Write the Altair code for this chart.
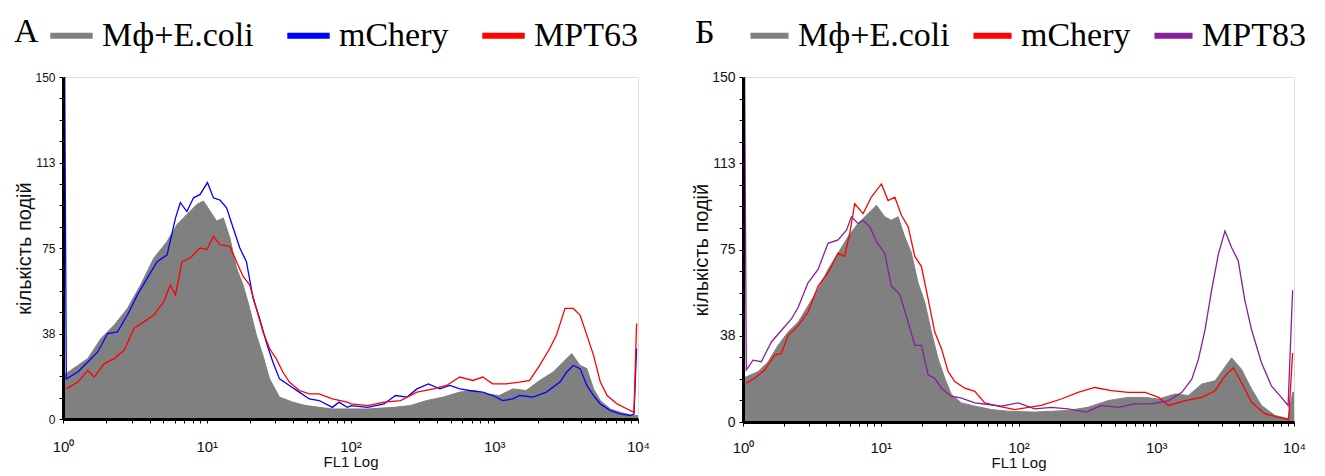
import altair as alt
import pandas as pd

# ---------------- text ----------------
LABEL_A = "A"
LABEL_B = "Б"
SERIES_A = ["Mф+E.coli", "mChery", "MPT63"]
SERIES_B = ["Mф+E.coli", "mChery", "MPT83"]
COLORS_A = ["#808080", "#0000ff", "#ff0000"]
COLORS_B = ["#808080", "#ff0000", "#86209a"]
Y_TITLE = "кількість подій"
X_TITLE = "FL1 Log"
X_DECADES = [1, 10, 100, 1000, 10000]
X_TICK_LABELS = ["10⁰", "10¹", "10²", "10³", "10⁴"]
Y_MAJOR = [0, 37.5, 75, 112.5, 150]
Y_TICK_LABELS = ["0", "38", "75", "113", "150"]

# ---------------- data (x given as log10 of FL1, y = counts) ----------------
# Panel A
a_gray_lx = [0.0, 0.103, 0.172, 0.264, 0.356, 0.448, 0.540, 0.632, 0.724, 0.793, 0.862, 0.931, 0.977,
             1.023, 1.069, 1.115, 1.161, 1.207, 1.253, 1.299, 1.345, 1.391, 1.437, 1.506, 1.598, 1.690,
             1.782, 1.874, 2.119, 2.302, 2.416, 2.531, 2.645, 2.760, 2.851, 2.943, 3.035, 3.129, 3.222,
             3.316, 3.410, 3.480, 3.539, 3.597, 3.644, 3.691, 3.738, 3.808, 3.878, 3.972, 4.0]
a_gray_y = [19.0, 23.5, 26.5, 35.3, 41.2, 48.5, 58.8, 70.6, 77.9, 85.3, 89.7, 94.1, 95.6,
            91.2, 86.8, 88.2, 79.4, 66.2, 58.8, 48.5, 36.8, 27.9, 17.6, 9.6, 7.4, 5.9,
            5.1, 4.4, 4.4, 5.1, 5.9, 8.1, 9.6, 11.8, 12.5, 11.0, 10.3, 13.2, 12.5,
            16.9, 20.6, 25.0, 28.7, 23.5, 22.1, 13.2, 8.1, 4.4, 2.9, 1.5, 1.5]

a_blue_lx = [0.012, 0.023, 0.103, 0.172, 0.241, 0.310, 0.379, 0.448, 0.517, 0.586, 0.655, 0.724, 0.782,
             0.816, 0.862, 0.908, 0.954, 1.005, 1.046, 1.092, 1.138, 1.184, 1.230, 1.276, 1.322, 1.368,
             1.414, 1.460, 1.506, 1.575, 1.644, 1.713, 1.782, 1.874, 1.920, 1.977, 2.005, 2.119, 2.233,
             2.313, 2.394, 2.462, 2.542, 2.622, 2.691, 2.760, 2.828, 2.920, 2.989, 3.059, 3.129, 3.176,
             3.269, 3.363, 3.457, 3.504, 3.550, 3.597, 3.644, 3.691, 3.738, 3.808, 3.878, 3.948, 3.972,
             3.99]
a_blue_y = [150, 17.6, 20.6, 25.0, 29.4, 37.5, 38.2, 45.6, 54.4, 61.8, 69.0, 72.0, 88.0,
            94.9, 91.0, 97.0, 98.5, 103.7, 97.0, 96.0, 92.6, 83.8, 75.0, 69.0, 53.0, 44.0,
            33.8, 25.0, 17.6, 14.7, 11.8, 8.8, 8.1, 5.1, 7.4, 5.1, 5.9, 5.1, 6.6,
            10.3, 9.6, 13.2, 15.4, 13.2, 14.7, 13.2, 12.5, 11.8, 10.3, 8.1, 8.8, 10.3,
            9.6, 11.8, 16.2, 20.6, 23.5, 22.1, 14.7, 10.3, 6.6, 3.7, 2.2, 1.5, 2.2,
            30.9]

a_red_lx = [0.023, 0.103, 0.172, 0.218, 0.287, 0.356, 0.425, 0.494, 0.563, 0.632, 0.701, 0.747, 0.782,
            0.828, 0.885, 0.954, 1.000, 1.046, 1.092, 1.161, 1.207, 1.253, 1.299, 1.345, 1.391, 1.437,
            1.483, 1.529, 1.575, 1.644, 1.713, 1.782, 1.874, 1.977, 2.005, 2.119, 2.233, 2.348, 2.462,
            2.577, 2.668, 2.760, 2.851, 2.920, 2.989, 3.082, 3.176, 3.246, 3.316, 3.386, 3.433, 3.492,
            3.550, 3.597, 3.644, 3.691, 3.738, 3.785, 3.855, 3.925, 3.972, 3.99]
a_red_y = [13.2, 16.2, 21.3, 18.4, 24.3, 26.5, 30.1, 39.7, 42.6, 45.6, 51.5, 58.8, 54.4,
           69.0, 70.6, 75.0, 74.3, 80.1, 76.5, 75.7, 69.0, 62.5, 58.8, 48.5, 38.2, 30.9,
           26.5, 20.6, 16.2, 12.5, 11.0, 11.0, 8.8, 7.4, 6.6, 5.9, 7.4, 8.1, 11.8,
           13.2, 14.7, 18.4, 16.9, 18.4, 15.4, 15.4, 16.2, 16.9, 23.5, 30.9, 36.8, 48.5,
           48.5, 45.6, 36.8, 27.9, 16.2, 10.3, 6.6, 4.4, 2.9, 41.9]

# Panel B
b_gray_lx = [0.0, 0.109, 0.182, 0.254, 0.327, 0.400, 0.472, 0.545, 0.617, 0.690, 0.763, 0.835, 0.908,
             0.969, 1.029, 1.077, 1.126, 1.174, 1.223, 1.271, 1.320, 1.368, 1.416, 1.465, 1.513, 1.586,
             1.683, 1.804, 1.925, 2.117, 2.359, 2.505, 2.650, 2.796, 2.917, 3.017, 3.137, 3.234, 3.330,
             3.427, 3.487, 3.547, 3.619, 3.692, 3.764, 3.860, 3.957, 3.99, 4.0]
b_gray_y = [19.0, 21.9, 26.2, 33.3, 39.1, 43.4, 50.5, 57.7, 66.3, 73.4, 80.6, 86.3, 90.6,
            94.2, 89.2, 87.7, 89.2, 80.6, 73.4, 60.5, 52.0, 39.1, 27.6, 19.0, 11.9, 8.3,
            6.9, 5.4, 4.7, 4.3, 5.0, 6.4, 9.3, 10.7, 10.7, 10.0, 12.2, 11.5, 16.5,
            17.9, 22.9, 27.9, 22.9, 14.3, 7.2, 2.9, 1.4, 12.9, 12.9]

b_red_lx = [0.024, 0.085, 0.157, 0.230, 0.278, 0.327, 0.400, 0.472, 0.545, 0.617, 0.690, 0.738, 0.775,
            0.811, 0.872, 0.932, 1.005, 1.053, 1.102, 1.150, 1.199, 1.247, 1.295, 1.344, 1.392, 1.441,
            1.489, 1.538, 1.610, 1.683, 1.755, 1.852, 1.973, 2.165, 2.311, 2.432, 2.553, 2.675, 2.796,
            2.920, 3.017, 3.089, 3.210, 3.330, 3.427, 3.499, 3.559, 3.619, 3.692, 3.788, 3.884, 3.961,
            3.99]
b_red_y = [16.9, 19.0, 22.6, 29.1, 29.8, 37.6, 41.9, 47.7, 59.1, 64.8, 73.4, 72.0, 82.0,
           94.9, 90.6, 97.8, 103.5, 96.3, 97.8, 89.9, 84.9, 72.0, 67.7, 53.4, 39.1, 31.9,
           21.9, 17.6, 14.7, 13.3, 8.3, 6.9, 5.4, 7.2, 10.0, 12.9, 15.0, 13.6, 12.9,
           12.9, 10.7, 7.2, 9.3, 10.7, 13.6, 20.0, 23.6, 17.2, 8.6, 3.6, 2.1, 1.1,
           30.0]

b_purple_lx = [0.012, 0.024, 0.073, 0.133, 0.206, 0.278, 0.351, 0.400, 0.472, 0.545, 0.617, 0.690, 0.751,
               0.787, 0.835, 0.872, 0.920, 0.969, 1.029, 1.077, 1.138, 1.199, 1.247, 1.295, 1.344, 1.392,
               1.441, 1.513, 1.586, 1.683, 1.780, 1.877, 1.998, 2.117, 2.238, 2.359, 2.493, 2.602, 2.723,
               2.845, 2.966, 3.089, 3.186, 3.258, 3.306, 3.354, 3.402, 3.451, 3.499, 3.547, 3.595, 3.643,
               3.692, 3.764, 3.836, 3.908, 3.957, 3.99]
b_purple_y = [150, 22.6, 26.9, 26.2, 34.8, 39.8, 44.8, 49.8, 60.5, 66.3, 77.7, 79.2, 83.4,
              89.2, 86.3, 87.7, 84.9, 78.4, 73.4, 59.1, 55.5, 43.4, 33.3, 33.3, 20.5, 19.0,
              14.7, 11.2, 10.4, 8.3, 7.6, 6.9, 8.3, 5.7, 6.4, 5.7, 4.3, 7.2, 6.4,
              7.9, 7.9, 9.3, 12.9, 18.6, 27.2, 40.1, 57.3, 73.0, 83.0, 75.9, 70.1, 53.0,
              40.1, 25.8, 15.7, 10.7, 7.2, 57.3]


def table(pairs):
    rows = []
    for name, xs, ys in pairs:
        for lx, c in zip(xs, ys):
            rows.append({"series": name, "lx": lx, "count": c})
    return pd.DataFrame(rows)


# trailing en-space + thin-space nudge the centred "10" left of its tick, as in the original
LABEL_PAD = "\u2002\u2009"
x_tick_values = [k * d for d in X_DECADES[:-1] for k in range(1, 10)] + [X_DECADES[-1]]
x_label_expr = " : ".join(
    f"datum.value == {v} ? '{t}{LABEL_PAD}'" for v, t in zip(X_DECADES, X_TICK_LABELS)
) + " : ''"
y_tick_values = [i * 150 / 16 for i in range(17)]
y_label_expr = " : ".join(
    f"datum.value == {v} ? '{t}'" for v, t in zip(Y_MAJOR, Y_TICK_LABELS)
) + " : ''"

SANS = "Liberation Sans"
SERIF = "Liberation Serif"


def panel(label, series, colors, gray, lines, width, height, ylab_size, xlab_pad,
          legend_x, legend_y, title_pad, col_pad, sym_size):
    gray_df = table([gray])
    line_df = table([gray] + lines)

    xenc = alt.X(
        "fl1:Q",
        scale=alt.Scale(type="log", domain=[1, 10000], nice=False),
        axis=alt.Axis(
            values=x_tick_values, labelExpr=x_label_expr, title=X_TITLE,
            grid=False, domainWidth=3, domainColor="black", tickColor="black",
            tickSize=4, labelFont=SANS, labelFontSize=15, labelColor="#111",
            labelPadding=xlab_pad, labelFlush=False, labelOverlap=False,
            titleFont=SANS, titleFontSize=15, titleFontWeight="normal", titleColor="#111",
            titlePadding=0, zindex=1,
        ),
    )
    yenc = alt.Y(
        "count:Q",
        scale=alt.Scale(domain=[0, 150], nice=False, zero=True),
        axis=alt.Axis(
            values=y_tick_values, labelExpr=y_label_expr, title=Y_TITLE,
            grid=False, domainWidth=3, domainColor="black", tickColor="black",
            tickSize=4, labelFont=SANS, labelFontSize=ylab_size, labelColor="#111",
            labelPadding=4, labelOverlap=False,
            titleFont=SANS, titleFontSize=20, titleFontWeight="normal", titleColor="#111",
            titlePadding=0, zindex=1,
        ),
    )
    color = alt.Color(
        "series:N",
        scale=alt.Scale(domain=series, range=colors),
        sort=series,
        legend=alt.Legend(
            title=label, titleOrient="left", orient="none", legendX=legend_x, legendY=legend_y,
            direction="horizontal", symbolType="stroke", symbolSize=sym_size, symbolStrokeWidth=6,
            labelFont=SERIF, labelFontSize=34, labelColor="black", labelLimit=400,
            titleFont=SERIF, titleFontSize=34, titleFontWeight="normal", titleColor="black",
            titlePadding=title_pad, labelOffset=6, columnPadding=col_pad, padding=0,
        ),
    )

    area = alt.Chart(gray_df).transform_calculate(fl1="pow(10, datum.lx)").mark_area(
        color="#808080", clip=True
    ).encode(x=xenc, y=yenc)

    gray_line = alt.Chart(line_df).transform_filter(
        alt.datum.series == series[0]
    ).transform_calculate(fl1="pow(10, datum.lx)").mark_line(strokeWidth=1, clip=True).encode(
        x=xenc, y=yenc, color=color
    )
    col_lines = alt.Chart(line_df).transform_filter(
        alt.datum.series != series[0]
    ).transform_calculate(fl1="pow(10, datum.lx)").mark_line(strokeWidth=1.3, clip=True).encode(
        x=xenc, y=yenc, color=color
    )
    return alt.layer(area, gray_line, col_lines).properties(width=width, height=height)


chart_a = panel(LABEL_A, SERIES_A, COLORS_A,
                ("Mф+E.coli", a_gray_lx, a_gray_y),
                [(SERIES_A[1], a_blue_lx, a_blue_y), (SERIES_A[2], a_red_lx, a_red_y)],
                575, 342, 12, 16, -49, -66, 8, 21, 1800)
chart_b = panel(LABEL_B, SERIES_B, COLORS_B,
                ("Mф+E.coli", b_gray_lx, b_gray_y),
                [(SERIES_B[1], b_red_lx, b_red_y), (SERIES_B[2], b_purple_lx, b_purple_y)],
                551, 345, 14, 14, -48, -64, 32, 11, 1450)

chart = alt.hconcat(chart_a, chart_b, spacing=40).resolve_scale(color="independent").properties(
    padding={"top": 2, "bottom": 0, "left": 5, "right": 5}
).configure_view(
    stroke="#222", strokeWidth=2
).configure(background="white")

chart.save("out.html", embed_options={"renderer": "svg", "actions": False})
